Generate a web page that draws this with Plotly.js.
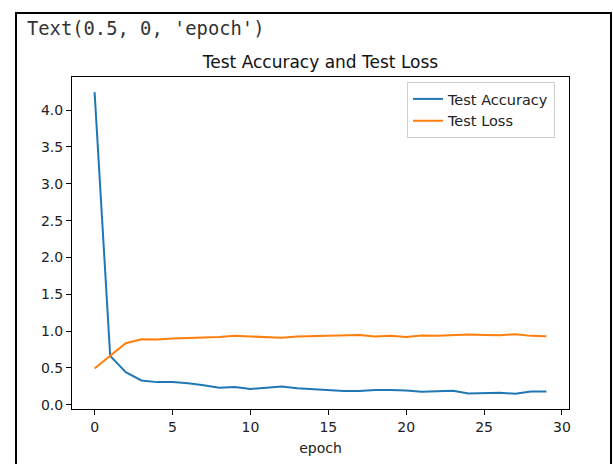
<!DOCTYPE html>
<html>
<head>
<meta charset="utf-8">
<script src="https://cdn.plot.ly/plotly-3.0.1.min.js"></script>
<style>
  html, body { margin: 0; padding: 0; background: #fff; }
  #chart { width: 613px; height: 464px; }
</style>
</head>
<body>
<div id="chart"></div>
<script>
// Data
const epochs = [0,1,2,3,4,5,6,7,8,9,10,11,12,13,14,15,16,17,18,19,20,21,22,23,24,25,26,27,28,29];
const testAccuracy = [4.245,0.664,0.443,0.33,0.307,0.31,0.29,0.266,0.23,0.24,0.213,0.23,0.248,0.225,0.21,0.199,0.185,0.185,0.199,0.199,0.194,0.176,0.185,0.19,0.153,0.158,0.162,0.149,0.18,0.18];
const testLoss = [0.492,0.664,0.836,0.89,0.886,0.9,0.905,0.917,0.92,0.935,0.93,0.92,0.91,0.925,0.93,0.935,0.935,0.948,0.926,0.935,0.921,0.94,0.935,0.944,0.953,0.948,0.944,0.958,0.935,0.93];
const seriesNames = ["Test Accuracy", "Test Loss"];
const titleText = "Test Accuracy and Test Loss";
const xLabel = "epoch";
const outputText = "Text(0.5, 0, 'epoch')";

const font = "DejaVu Sans, Liberation Sans, sans-serif";

const traces = [
  {x: epochs, y: testAccuracy, name: seriesNames[0], mode: "lines",
   line: {color: "#1f77b4", width: 2}},
  {x: epochs, y: testLoss, name: seriesNames[1], mode: "lines",
   line: {color: "#ff7f0e", width: 2}}
];

const layout = {
  width: 613, height: 464,
  margin: {l: 72, r: 44, t: 77, b: 55, pad: 0},
  paper_bgcolor: "#ffffff", plot_bgcolor: "#ffffff",
  font: {family: font, size: 14, color: "#222"},
  showlegend: true,
  title: {text: titleText, x: 0.5, xanchor: "center", xref: "paper",
          y: 1 - 62/464, yanchor: "middle", yref: "container",
          font: {family: font, size: 17, color: "#111"}},
  xaxis: {range: [-1.45, 30.45], tickmode: "linear", tick0: 0, dtick: 5,
          showgrid: false, zeroline: false, showline: true, mirror: true,
          linecolor: "#000", linewidth: 1, ticks: "outside", ticklen: 5,
          tickcolor: "#000", tickwidth: 1,
          tickfont: {family: font, size: 14, color: "#222"},
          title: {text: xLabel, standoff: 9, font: {family: font, size: 14, color: "#222"}}},
  yaxis: {range: [-0.058, 4.45], tickmode: "linear", tick0: 0, dtick: 0.5,
          tickformat: ".1f",
          showgrid: false, zeroline: false, showline: true, mirror: true,
          linecolor: "#000", linewidth: 1, ticks: "outside", ticklen: 5,
          tickcolor: "#000", tickwidth: 1,
          tickfont: {family: font, size: 14, color: "#222"}},
  legend: {x: 0.674, y: 0.985, xanchor: "left", yanchor: "top",
           bgcolor: "rgba(255,255,255,0.8)", bordercolor: "#d0d0d0", borderwidth: 1,
           font: {family: font, size: 14.5, color: "#222"},
           tracegroupgap: 0, itemwidth: 30},
  shapes: [
    {type: "rect", xref: "paper", yref: "paper",
     x0: (16-72)/497, x1: (611-72)/497, y0: (409-480)/332, y1: (409-13)/332,
     line: {color: "#000", width: 2}, fillcolor: "rgba(0,0,0,0)", layer: "below"}
  ],
  annotations: [
    {text: outputText, xref: "paper", yref: "paper", x: (25-72)/497, y: (409-29)/332,
     xanchor: "left", yanchor: "middle", showarrow: false,
     font: {family: "DejaVu Sans Mono, Liberation Mono, monospace", size: 18.8, color: "#333"}}
  ]
};

Plotly.newPlot("chart", traces, layout, {displayModeBar: false, staticPlot: true});
</script>
</body>
</html>
